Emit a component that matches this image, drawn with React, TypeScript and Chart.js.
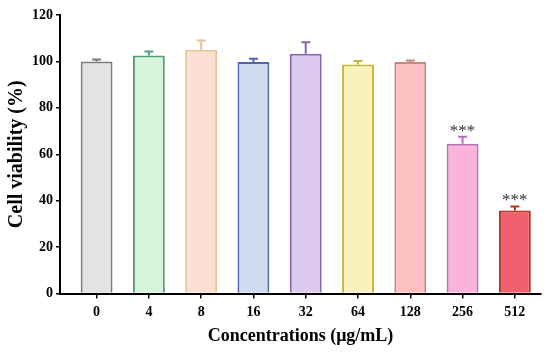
import React, { useEffect, useRef } from "react";
import { Chart, registerables } from "chart.js";

Chart.register(...registerables);

const categories = ["0", "4", "8", "16", "32", "64", "128", "256", "512"];
const viability = [100, 102.5, 105, 99.8, 103.3, 98.7, 99.8, 64.5, 35.8];
const errors = [0.8, 1.8, 4, 1.3, 5, 1.5, 0.6, 3, 1.7];
const significance = ["", "", "", "", "", "", "", "***", "***"];
const fillColors = ["#e3e3e3", "#d8f5dc", "#fde0d4", "#cfdaee", "#ddcaee", "#faf2bd", "#fbc0bf", "#fdb2dc", "#f2606f"];
const borderColors = ["#7c7c7c", "#4f9d7c", "#e5c493", "#5462b0", "#8868b4", "#c6b635", "#c08a80", "#b472b6", "#b3341a"];
const yTicks = [0, 20, 40, 60, 80, 100, 120];

const errorBarPlugin = {
  id: "errorBars",
  afterDatasetsDraw(chart: any) {
    const { ctx } = chart;
    const meta = chart.getDatasetMeta(0);
    const yScale = chart.scales.y;
    ctx.save();
    meta.data.forEach((bar: any, i: number) => {
      const x = bar.x;
      const yTop = bar.y;
      const yErr = yScale.getPixelForValue(viability[i] + errors[i]);
      ctx.strokeStyle = borderColors[i];
      ctx.lineWidth = 2;
      ctx.beginPath();
      ctx.moveTo(x, yTop);
      ctx.lineTo(x, yErr);
      ctx.moveTo(x - 4.5, yErr);
      ctx.lineTo(x + 4.5, yErr);
      ctx.stroke();
      if (significance[i]) {
        ctx.fillStyle = "#333333";
        ctx.font = "17px 'Liberation Serif', serif";
        ctx.textAlign = "center";
        ctx.textBaseline = "alphabetic";
        ctx.fillText(significance[i], x, yErr - 1);
      }
    });
    ctx.restore();
  },
};

export default function App() {
  const canvasRef = useRef<HTMLCanvasElement | null>(null);

  useEffect(() => {
    if (!canvasRef.current) return;
    const chart = new Chart(canvasRef.current, {
      type: "bar",
      data: {
        datasets: [
          {
            data: viability.map((v, i) => ({ x: i, y: v })),
            backgroundColor: fillColors,
            borderColor: borderColors,
            borderWidth: 2,
            borderSkipped: "bottom",
            categoryPercentage: 1,
            barPercentage: 0.61,
          },
        ],
      },
      options: {
        responsive: false,
        animation: false,
        events: [],
        layout: { padding: { top: 15, right: 9, left: 0, bottom: 0 } },
        plugins: { legend: { display: false }, tooltip: { enabled: false } },
        scales: {
          x: {
            type: "linear",
            offset: false,
            min: -0.7,
            max: 8.5,
            afterBuildTicks(scale: any) {
              scale.ticks = categories.map((_, i) => ({ value: i }));
            },
            afterFit(scale: any) {
              scale.height = 58.5;
            },
            ticks: {
              callback: (v: any) => categories[v as number] ?? "",
              color: "#000",
              font: { family: "'Liberation Serif', serif", size: 14, weight: "bold" },
              padding: 5,
              maxRotation: 0,
              autoSkip: false,
            },
            grid: { offset: false, drawOnChartArea: false, tickLength: 5, color: "#000", lineWidth: 1.5 },
            border: { color: "#000", width: 2 },
            title: {
              display: true,
              text: "Concentrations (\u03bcg/mL)",
              color: "#000",
              font: { family: "'Liberation Serif', serif", size: 18, weight: "bold" },
              padding: { top: 0, bottom: 5 },
            },
          },
          y: {
            min: 0,
            max: 120,
            afterBuildTicks(scale: any) {
              scale.ticks = yTicks.map((v) => ({ value: v }));
            },
            afterFit(scale: any) {
              scale.width = 60;
            },
            ticks: {
              color: "#000",
              font: { family: "'Liberation Serif', serif", size: 14, weight: "bold" },
              padding: 3,
            },
            grid: { drawOnChartArea: false, tickLength: 4, color: "#000", lineWidth: 1.5 },
            border: { color: "#000", width: 2 },
            title: {
              display: true,
              text: "Cell viability (%)",
              color: "#000",
              font: { family: "'Liberation Serif', serif", size: 20, weight: "bold" },
              padding: { top: 5, bottom: 0 },
            },
          },
        },
      },
      plugins: [errorBarPlugin],
    });
    return () => chart.destroy();
  }, []);

  return (
    <div style={{ position: "fixed", left: 0, top: 0, width: 550, height: 352, background: "#fff" }}>
      <canvas ref={canvasRef} width={550} height={352} style={{ display: "block" }} />
    </div>
  );
}
